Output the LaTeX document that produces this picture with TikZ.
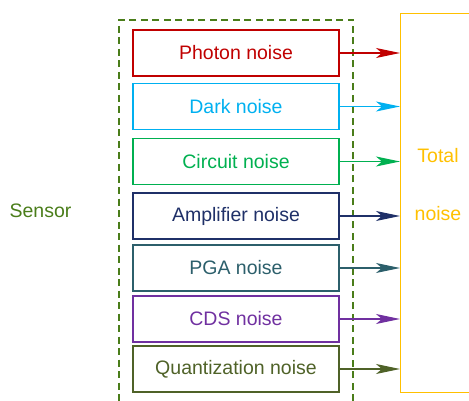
\documentclass[tikz,border=0pt]{standalone}
\usepackage{fontspec}
\setmainfont{Liberation Sans}
\usetikzlibrary{arrows.meta}
\definecolor{cphoton}{HTML}{C00000}
\definecolor{cdark}{HTML}{00B0F0}
\definecolor{ccircuit}{HTML}{00B050}
\definecolor{camp}{HTML}{1F3068}
\definecolor{cpga}{HTML}{2C5F6B}
\definecolor{ccds}{HTML}{7030A0}
\definecolor{cquant}{HTML}{4F6228}
\definecolor{csensor}{HTML}{4A7D1A}
\definecolor{ctotal}{HTML}{FFC000}
\tikzset{
  noisebox/.style={draw=#1, text=#1, line width=1.2pt, minimum width=206pt, minimum height=46pt, inner sep=0pt,
    font=\fontsize{19.5}{23}\selectfont},
  feed/.style={draw=#1, line width=1.2pt, -{Stealth[length=24pt,width=10pt,inset=6pt]}},
  lbl/.style={text=#1, font=\fontsize{19.5}{23}\selectfont, inner sep=0pt}
}
\begin{document}
\begin{tikzpicture}[x=1pt,y=-1pt]
\useasboundingbox (0,0) rectangle (469,401);
\clip (0,0) rectangle (469,401);
\node[draw=csensor, dash pattern=on 7pt off 4.5pt, line width=2pt, minimum width=234pt, minimum height=400pt, inner sep=0pt, anchor=north west] (sensorbox) at (118,19) {};
\node[draw=ctotal, line width=1.2pt, minimum width=90pt, minimum height=379pt, inner sep=0pt, anchor=north west] (total) at (400,13) {};
\node[lbl=ctotal] (totalt) at (438,156) {Total};
\node[lbl=ctotal] (totaln) at (438,214) {noise};
\node[lbl=csensor] (sensor) at (40.5,211) {Sensor};
\node[noisebox=cphoton] (photon) at (236,53) {Photon noise};
\node[noisebox=cdark] (dark) at (236,106.5) {Dark noise};
\node[noisebox=ccircuit] (circuit) at (236,161.5) {Circuit noise};
\node[noisebox=camp] (amp) at (236,216) {Amplifier noise};
\node[noisebox=cpga] (pga) at (236,268) {PGA noise};
\node[noisebox=ccds] (cds) at (236,319) {CDS noise};
\node[noisebox=cquant] (quant) at (236,369) {Quantization noise};
\foreach \n/\c in {photon/cphoton,dark/cdark,circuit/ccircuit,amp/camp,pga/cpga,cds/ccds,quant/cquant}
  \draw[feed=\c] (\n.east) -- (\n.east -| total.west);
\end{tikzpicture}
\end{document}
